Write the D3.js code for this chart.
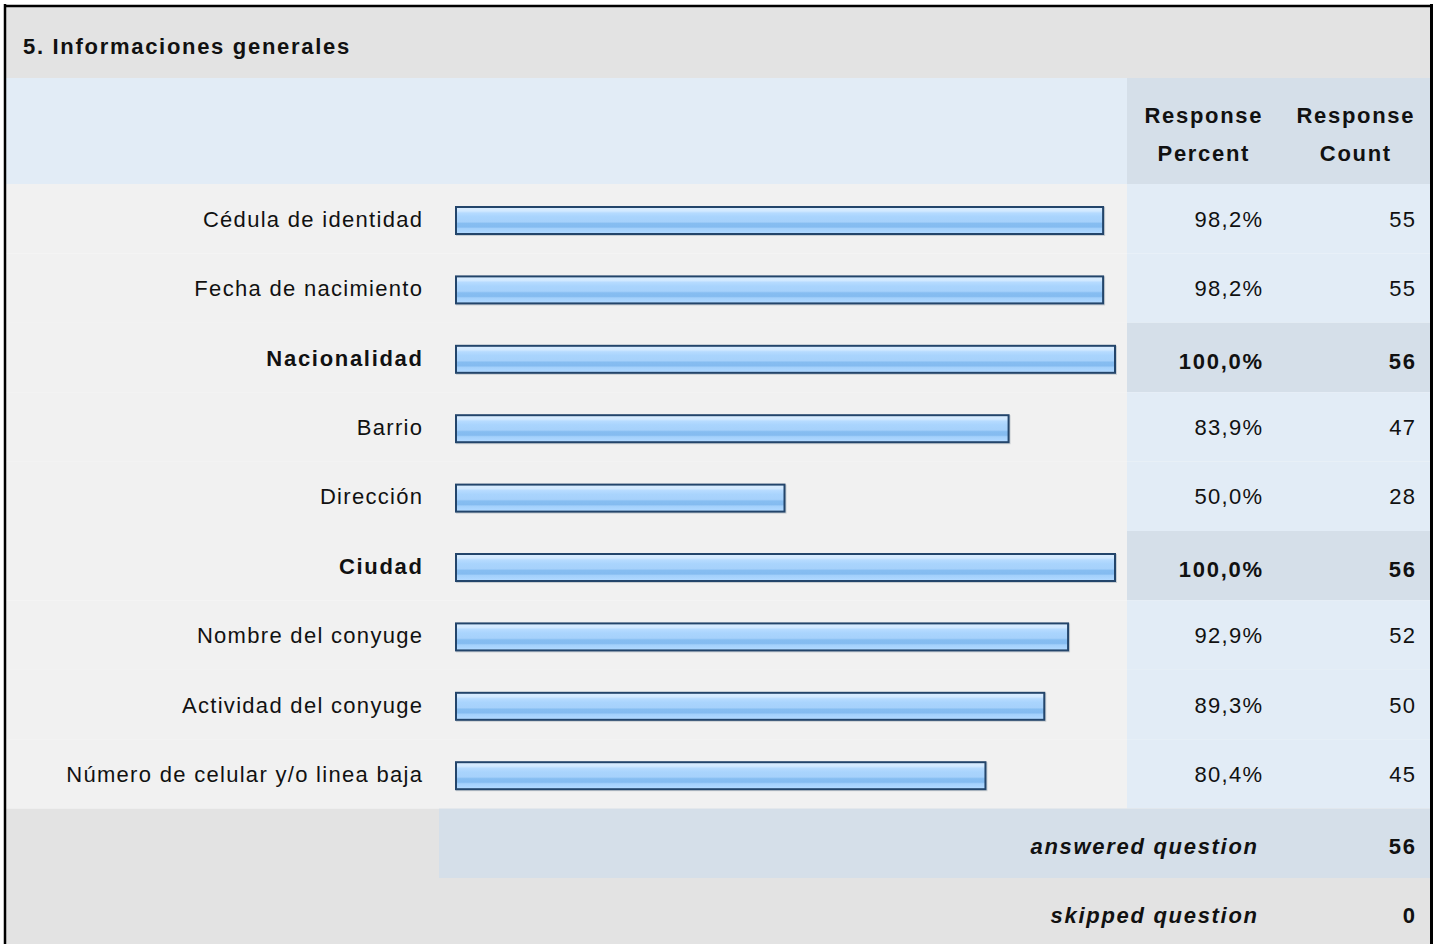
<!DOCTYPE html>
<html><head><meta charset="utf-8">
<script src="https://cdn.jsdelivr.net/npm/d3@7"></script>
<style>html,body{margin:0;padding:0;background:#fff;}svg{display:block;}</style>
</head><body><svg id="chart" width="1437" height="944"></svg>
<script>
const title = "5. Informaciones generales";
const headers = [["Response", "Percent"], ["Response", "Count"]];
const categories = ["Cédula de identidad", "Fecha de nacimiento", "Nacionalidad", "Barrio", "Dirección", "Ciudad", "Nombre del conyuge", "Actividad del conyuge", "Número de celular y/o linea baja"];
const percents = [98.2, 98.2, 100.0, 83.9, 50.0, 100.0, 92.9, 89.3, 80.4];
const counts = [55, 55, 56, 47, 28, 56, 52, 50, 45];
const summaryLabels = ["answered question", "skipped question"];
const summaryValues = [56, 0];

const FONT = "'Liberation Sans', Arial, Helvetica, sans-serif";
const FS = 22, LSN = 1.3, LSB = 1.7;
const svg = d3.select("#chart");
const L = 6, R = 1430, T = 7;
const rightCol = 1127;

const data = categories.map((c, i) => ({cat: c, pct: percents[i], n: counts[i]}));
const maxN = d3.max(counts);

const y = d3.scaleBand().domain(categories).range([184, 808.6]).padding(0);
const x = d3.scaleLinear().domain([0, 100]).range([455, 1116]);
const loc = d3.formatLocale({decimal: ",", thousands: ".", grouping: [3], currency: ["", ""]});
const fmtPct = v => loc.format(".1f")(v) + "%";

function txt(sel, bold, anchor) {
  const ls = bold ? LSB : LSN;
  sel.attr("font-family", FONT).attr("font-size", FS).attr("fill", "#111")
    .attr("font-weight", bold ? "bold" : "normal")
    .attr("letter-spacing", ls)
    .attr("text-anchor", anchor)
    .attr("dx", anchor === "end" ? ls : anchor === "middle" ? ls / 2 : 0);
  return sel;
}

// defs: gradient
const defs = svg.append("defs");
const g = defs.append("linearGradient").attr("id", "barGrad").attr("x1", 0).attr("y1", 0).attr("x2", 0).attr("y2", 1);
[[0, "#d8ecff"], [0.12, "#d2e9ff"], [0.2, "#b6dbff"], [0.35, "#a9d4fd"], [0.55, "#a6d1fb"], [0.62, "#86bdf1"], [0.76, "#84bbf0"], [0.82, "#a3d0fb"], [0.95, "#acd6ff"], [1, "#b4daff"]]
  .forEach(([o, c]) => g.append("stop").attr("offset", o).attr("stop-color", c));

// title bar
svg.append("rect").attr("x", L).attr("y", T).attr("width", R - L).attr("height", 78 - T).attr("fill", "#e3e3e3");
txt(svg.append("text").attr("x", 23).attr("y", 53.5).text(title), true, "start");

// header row
svg.append("rect").attr("x", L).attr("y", 78).attr("width", R - L).attr("height", 106).attr("fill", "#e2ecf6");
svg.append("rect").attr("x", rightCol).attr("y", 78).attr("width", R - rightCol).attr("height", 106).attr("fill", "#d5dfe9");
const hdrX = [1203, 1355];
headers.forEach((h, i) => {
  h.forEach((line, j) => {
    txt(svg.append("text").attr("x", hdrX[i]).attr("y", 123 + j * 38).text(line), true, "middle");
  });
});

// rows
const rows = svg.append("g").selectAll("g").data(data).join("g");
rows.append("rect").attr("x", L).attr("y", d => y(d.cat)).attr("width", rightCol - L).attr("height", y.bandwidth()).attr("fill", "#f1f1f1");
rows.append("rect").attr("x", rightCol).attr("y", d => y(d.cat)).attr("width", R - rightCol).attr("height", y.bandwidth())
  .attr("fill", d => d.n === maxN ? "#d5dfe9" : "#e2ecf6");

const barH = 29;
const barTop = d => y(d.cat) + 22;
rows.append("rect").attr("x", x(0) + 1).attr("y", d => barTop(d) + 1).attr("width", d => x(d.pct) - x(0)).attr("height", barH)
  .attr("fill", "#9aa3ad").attr("opacity", 0.45);
rows.append("rect").attr("x", x(0)).attr("y", barTop).attr("width", d => x(d.pct) - x(0)).attr("height", barH)
  .attr("fill", "#23456b");
rows.append("rect").attr("x", x(0) + 2).attr("y", d => barTop(d) + 2).attr("width", d => x(d.pct) - x(0) - 4).attr("height", barH - 4)
  .attr("fill", "url(#barGrad)");

rows.each(function(d) {
  const gr = d3.select(this);
  const b = d.n === maxN;
  const cy = y(d.cat) + y.bandwidth() / 2 + 8;
  txt(gr.append("text").attr("x", 422).attr("y", cy).text(d.cat), b, "end");
  txt(gr.append("text").attr("x", 1262).attr("y", cy + (b ? 3 : 0)).text(fmtPct(d.pct)), b, "end");
  txt(gr.append("text").attr("x", 1415).attr("y", cy + (b ? 3 : 0)).text(d.n), b, "end");
});

// summary rows
const sy = [808.6, 878];
svg.append("rect").attr("x", L).attr("y", sy[0]).attr("width", R - L).attr("height", 944 - sy[0]).attr("fill", "#e3e3e3");
svg.append("rect").attr("x", 439).attr("y", sy[0]).attr("width", R - 439).attr("height", sy[1] - sy[0]).attr("fill", "#d5dfe9");
const sCenters = [846, 915];
summaryLabels.forEach((lab, i) => {
  txt(svg.append("text").attr("x", 1257).attr("y", sCenters[i] + 8).text(lab), true, "end").attr("font-style", "italic");
  txt(svg.append("text").attr("x", 1415).attr("y", sCenters[i] + 8).text(summaryValues[i]), true, "end");
});

// outer border
svg.append("line").attr("x1", 5).attr("x2", 5).attr("y1", 4).attr("y2", 944).attr("stroke", "#000").attr("stroke-width", 2.5);
svg.append("line").attr("x1", 4).attr("x2", 1433).attr("y1", 6).attr("y2", 6).attr("stroke", "#000").attr("stroke-width", 2.5);
svg.append("line").attr("x1", 1431.5).attr("x2", 1431.5).attr("y1", 4).attr("y2", 944).attr("stroke", "#000").attr("stroke-width", 3);
</script></body></html>
